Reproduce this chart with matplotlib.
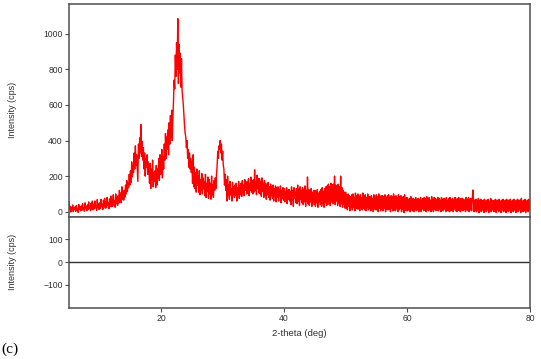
import numpy as np
import matplotlib
matplotlib.use('Agg')
import matplotlib.pyplot as plt

# 2-theta scan, 5 to 80 deg, 0.1 deg step (one row per degree)
two_theta = np.linspace(5, 80, 751)
intensity = [
    55, 10, 30, -2, 25, 8, 38, 0, 22, 12,          # 5
    28, 2, 35, 10, 18, -4, 40, 14, 25, 5,          # 6
    32, 8, 45, 15, 22, 3, 50, 18, 30, 6,           # 7
    38, 12, 55, 20, 30, 5, 48, 16, 60, 10,         # 8
    42, 15, 60, 22, 35, 8, 68, 25, 45, 12,         # 9
    50, 18, 70, 28, 42, 12, 65, 30, 75, 20,        # 10
    55, 22, 80, 35, 48, 18, 72, 30, 88, 28,        # 11
    65, 30, 95, 42, 60, 25, 100, 45, 78, 35,       # 12
    90, 48, 120, 60, 105, 50, 140, 70, 115, 65,    # 13
    120, 82, 150, 100, 175, 115, 160, 135, 210, 150,   # 14
    230, 165, 280, 195, 260, 220, 330, 240, 370, 260,  # 15
    320, 245, 170, 380, 300, 415, 330, 490, 310, 395,  # 16
    290, 360, 240, 330, 200, 300, 250, 320, 210, 280,  # 17
    250, 160, 270, 130, 240, 180, 290, 140, 220, 170,  # 18
    230, 135, 260, 150, 240, 190, 300, 175, 320, 210,  # 19
    260, 350, 190, 310, 240, 380, 290, 440, 300, 420,  # 20
    350, 460, 320, 500, 380, 540, 420, 570, 400, 530,  # 21
    620, 740, 690, 880, 760, 950, 800, 1085, 720, 940, # 22
    780, 890, 700, 860, 680, 640, 600, 540, 480, 440,  # 23
    420, 360, 400, 300, 350, 250, 330, 240, 300, 220,  # 24
    280, 160, 320, 140, 250, 130, 220, 110, 240, 150,  # 25
    200, 110, 230, 95, 180, 120, 215, 100, 190, 130,   # 26
    170, 90, 210, 80, 160, 115, 195, 75, 180, 100,     # 27
    160, 70, 200, 95, 150, 80, 175, 120, 190, 130,     # 28
    210, 260, 340, 300, 370, 350, 400, 330, 380, 290,  # 29
    340, 260, 240, 150, 210, 120, 180, 60, 200, 90,    # 30
    150, 70, 170, 95, 130, 60, 165, 100, 140, 80,      # 31
    150, 90, 160, 60, 135, 100, 170, 75, 145, 95,      # 32
    160, 85, 175, 110, 150, 90, 180, 120, 165, 100,    # 33
    170, 105, 185, 90, 160, 120, 195, 110, 175, 100,   # 34
    180, 110, 235, 120, 170, 95, 205, 130, 185, 105,   # 35
    185, 100, 170, 85, 190, 115, 160, 80, 175, 95,     # 36
    160, 70, 150, 95, 165, 80, 140, 65, 155, 90,       # 37
    140, 75, 150, 60, 130, 90, 145, 55, 135, 80,       # 38
    140, 60, 125, 85, 145, 50, 120, 75, 135, 65,       # 39
    130, 55, 115, 80, 135, 45, 120, 70, 125, 60,       # 40
    115, 40, 140, 65, 120, 30, 135, 75, 110, 50,       # 41
    130, 45, 150, 60, 125, 35, 140, 70, 120, 50,       # 42
    135, 40, 125, 55, 145, 30, 120, 60, 195, 45,       # 43
    125, 35, 115, 55, 130, 30, 110, 60, 120, 40,       # 44
    120, 30, 110, 50, 125, 25, 105, 55, 115, 40,       # 45
    125, 30, 135, 45, 115, 25, 130, 50, 140, 35,       # 46
    145, 40, 155, 60, 140, 35, 160, 55, 150, 45,       # 47
    155, 50, 200, 40, 150, 60, 145, 35, 155, 50,       # 48
    140, 30, 200, 45, 135, 25, 120, 40, 110, 20,       # 49
    110, 20, 95, 10, 100, 30, 90, 5, 85, 25,           # 50
    95, 10, 100, 25, 80, 5, 105, 20, 90, 15,           # 51
    100, 15, 85, 5, 95, 25, 80, 10, 105, 20,           # 52
    90, 10, 95, 5, 80, 25, 100, 10, 85, 15,            # 53
    85, 5, 90, 20, 75, 0, 95, 15, 80, 10,              # 54
    95, 10, 85, 0, 100, 20, 80, 5, 90, 15,             # 55
    90, 5, 85, 20, 95, 0, 80, 15, 90, 10,              # 56
    95, 15, 80, 0, 90, 20, 85, 5, 100, 10,             # 57
    85, 5, 90, 15, 80, 0, 95, 10, 85, 20,              # 58
    90, 0, 80, 15, 85, -5, 95, 10, 75, 5,              # 59
    80, 5, 70, 15, 75, 0, 85, 10, 70, 5,               # 60
    75, 0, 70, 15, 80, 5, 65, 10, 75, 0,               # 61
    70, 10, 80, 0, 65, 15, 75, 5, 80, 10,              # 62
    75, 0, 85, 10, 70, 5, 80, 15, 65, 0,               # 63
    85, 10, 70, 0, 80, 15, 75, 5, 70, 10,              # 64
    80, 5, 75, 15, 65, 0, 80, 10, 70, 5,               # 65
    75, 15, 70, 0, 80, 10, 65, 5, 75, 0,               # 66
    80, 5, 70, 10, 75, 0, 65, 15, 80, 5,               # 67
    70, 0, 75, 10, 80, 5, 65, 0, 75, 10,               # 68
    75, 5, 70, 15, 65, 0, 80, 10, 70, 5,               # 69
    80, 0, 70, 10, 75, 5, 65, 122, 70, 0,              # 70
    65, 5, 70, 0, 60, 10, 75, -5, 65, 5,               # 71
    70, 0, 60, 10, 65, -5, 70, 5, 60, 0,               # 72
    65, 10, 70, -5, 60, 5, 75, 0, 65, 10,              # 73
    60, 0, 65, 5, 70, -5, 60, 10, 65, 0,               # 74
    70, 5, 60, -5, 65, 10, 70, 0, 60, 5,               # 75
    65, -5, 70, 5, 60, 0, 65, 10, 70, -5,              # 76
    60, 5, 65, 0, 70, 10, 60, -5, 65, 5,               # 77
    70, 0, 60, 10, 65, -5, 75, 5, 60, 0,               # 78
    65, 5, 70, -5, 60, 10, 65, 0, 70, 5,               # 79
    30,                                                # 80
]
residual_level = 0

top_ticks = [0, 200, 400, 600, 800, 1000]
res_ticks = [-100, 0, 100]
x_ticks = [20, 40, 60, 80]

plt.rcParams['font.family'] = ['Liberation Sans', 'DejaVu Sans']
spine_c = '#505050'

fig = plt.figure(figsize=(5.41, 3.59), dpi=100)
ax1 = fig.add_axes([69/541, 1-216.7/359, 461/541, 212.7/359])
ax2 = fig.add_axes([69/541, 1-307.7/359, 461/541, 91/359])

ax1.plot(two_theta, intensity, color='#ff0000', lw=1.0)
ax1.set_xlim(5, 80)
ax1.set_ylim(-28, 1167)
ax1.set_yticks(top_ticks)
ax1.set_xticks([])

ax2.axhline(residual_level, color='#303030', lw=1)
ax2.set_xlim(5, 80)
ax2.set_ylim(-200, 200)
ax2.set_yticks(res_ticks)
ax2.set_xticks(x_ticks)
ax2.set_xlabel('2-theta (deg)', fontsize=6.8, color='#303030', labelpad=4)

for ax in (ax1, ax2):
    for s in ax.spines.values():
        s.set_color(spine_c)
        s.set_linewidth(1.1)
    ax.tick_params(axis='both', direction='out', length=3, width=0.8,
                   color=spine_c, labelsize=6.2, labelcolor='#303030', pad=1.5)
    ax.set_ylabel('Intensity (cps)', fontsize=6.5, color='#303030')
    ax.yaxis.set_label_coords(-0.112, 0.5)

fig.text(0.003, 1-349/359, '(c)', family='Liberation Serif', fontsize=11,
         va='center', ha='left')

fig.savefig('out.png', dpi=100)
